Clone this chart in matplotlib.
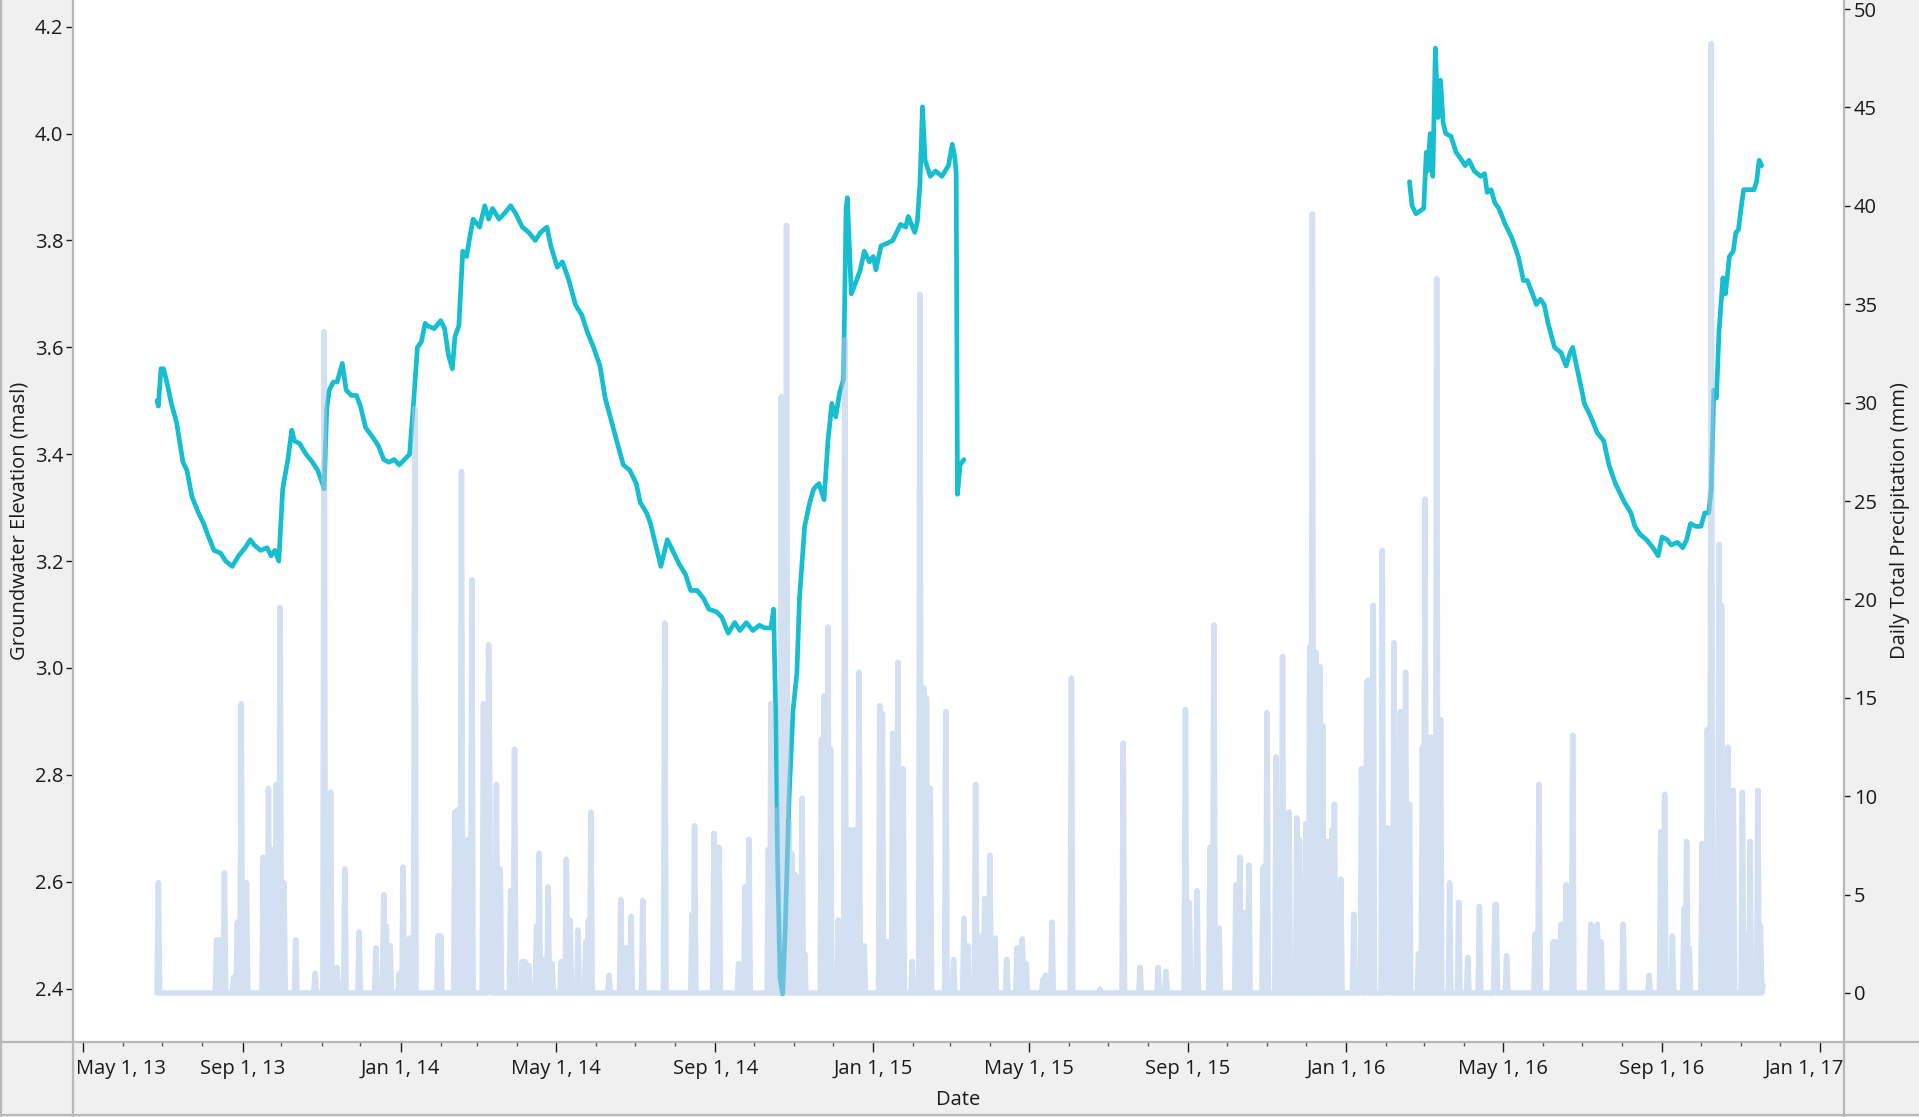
import matplotlib
matplotlib.use('Agg')
import matplotlib.pyplot as plt
import matplotlib.dates as mdates
from matplotlib.lines import Line2D
from matplotlib.ticker import FuncFormatter, MultipleLocator
import pandas as pd

plt.rcParams['font.family'] = ['Open Sans', 'DejaVu Sans']

# groundwater elevation, first logger run (masl)
gw_a_dates = [
    '2013-06-27', '2013-06-28', '2013-06-30', '2013-07-02', '2013-07-05', '2013-07-08',
    '2013-07-12', '2013-07-15', '2013-07-17', '2013-07-20', '2013-07-24', '2013-07-29',
    '2013-08-02', '2013-08-05', '2013-08-10', '2013-08-15', '2013-08-19', '2013-08-24',
    '2013-08-29', '2013-09-03', '2013-09-07', '2013-09-10', '2013-09-15', '2013-09-20',
    '2013-09-23', '2013-09-26', '2013-09-29', '2013-10-02', '2013-10-06', '2013-10-09',
    '2013-10-11', '2013-10-15', '2013-10-20', '2013-10-25', '2013-10-29', '2013-11-01',
    '2013-11-03', '2013-11-05', '2013-11-07', '2013-11-10', '2013-11-13', '2013-11-17',
    '2013-11-20', '2013-11-24', '2013-11-28', '2013-12-01', '2013-12-05', '2013-12-11',
    '2013-12-15', '2013-12-19', '2013-12-23', '2013-12-27', '2013-12-31',
    '2014-01-04', '2014-01-08', '2014-01-11', '2014-01-14', '2014-01-17', '2014-01-20',
    '2014-01-22', '2014-01-27', '2014-02-01', '2014-02-04', '2014-02-07', '2014-02-10',
    '2014-02-12', '2014-02-15', '2014-02-18', '2014-02-21', '2014-02-23', '2014-02-26',
    '2014-03-03', '2014-03-07', '2014-03-10', '2014-03-13', '2014-03-18', '2014-03-22',
    '2014-03-27', '2014-03-31', '2014-04-05', '2014-04-10', '2014-04-15', '2014-04-19',
    '2014-04-24', '2014-04-27', '2014-05-02', '2014-05-06', '2014-05-11', '2014-05-16',
    '2014-05-21', '2014-05-25', '2014-05-30', '2014-06-04', '2014-06-08', '2014-06-13',
    '2014-06-18', '2014-06-22', '2014-06-27', '2014-07-02', '2014-07-05', '2014-07-10',
    '2014-07-13', '2014-07-18', '2014-07-21', '2014-07-26', '2014-07-30', '2014-08-04',
    '2014-08-09', '2014-08-13', '2014-08-18', '2014-08-23', '2014-08-27', '2014-09-02',
    '2014-09-06', '2014-09-11', '2014-09-16', '2014-09-20', '2014-09-25', '2014-09-30',
    '2014-10-05', '2014-10-09', '2014-10-14', '2014-10-16', '2014-10-18', '2014-10-19',
    '2014-10-21', '2014-10-23', '2014-10-25', '2014-10-28', '2014-10-31', '2014-11-03',
    '2014-11-05', '2014-11-09', '2014-11-13', '2014-11-16', '2014-11-20', '2014-11-24',
    '2014-11-27', '2014-11-30', '2014-12-03', '2014-12-06', '2014-12-09', '2014-12-11',
    '2014-12-12', '2014-12-15', '2014-12-19', '2014-12-22', '2014-12-25', '2014-12-29',
    '2015-01-01', '2015-01-03', '2015-01-07', '2015-01-12', '2015-01-16', '2015-01-19',
    '2015-01-22', '2015-01-26', '2015-01-28', '2015-02-02', '2015-02-04', '2015-02-06',
    '2015-02-08', '2015-02-10', '2015-02-14', '2015-02-18', '2015-02-23', '2015-02-28',
    '2015-03-03', '2015-03-05', '2015-03-06', '2015-03-07', '2015-03-09', '2015-03-12',
]
gw_a_level = [
    3.50, 3.49, 3.56, 3.56, 3.53, 3.495,
    3.46, 3.415, 3.385, 3.37, 3.32, 3.29,
    3.27, 3.25, 3.22, 3.215, 3.20, 3.19,
    3.21, 3.225, 3.24, 3.23, 3.22, 3.225,
    3.21, 3.22, 3.20, 3.335, 3.39, 3.445,
    3.425, 3.42, 3.40, 3.385, 3.37, 3.35,
    3.335, 3.485, 3.52, 3.535, 3.535, 3.57,
    3.52, 3.51, 3.51, 3.49, 3.45, 3.43,
    3.415, 3.39, 3.385, 3.39, 3.38,
    3.39, 3.40, 3.495, 3.60, 3.61, 3.645,
    3.64, 3.635, 3.65, 3.635, 3.585, 3.56,
    3.62, 3.64, 3.78, 3.77, 3.80, 3.84,
    3.825, 3.865, 3.84, 3.86, 3.84, 3.85,
    3.865, 3.85, 3.825, 3.815, 3.80, 3.815,
    3.825, 3.79, 3.75, 3.76, 3.725, 3.68,
    3.66, 3.63, 3.60, 3.565, 3.505, 3.46,
    3.415, 3.38, 3.37, 3.345, 3.31, 3.29,
    3.27, 3.22, 3.19, 3.24, 3.22, 3.195,
    3.175, 3.145, 3.145, 3.13, 3.11, 3.105,
    3.095, 3.065, 3.085, 3.07, 3.085, 3.07,
    3.08, 3.075, 3.075, 3.11, 2.875, 2.65,
    2.42, 2.39, 2.51, 2.76, 2.92, 2.99,
    3.13, 3.265, 3.31, 3.335, 3.345, 3.315,
    3.425, 3.495, 3.47, 3.515, 3.54, 3.86,
    3.88, 3.70, 3.725, 3.745, 3.78, 3.76,
    3.77, 3.745, 3.79, 3.795, 3.80, 3.815,
    3.83, 3.825, 3.845, 3.815, 3.835, 3.905,
    4.05, 3.95, 3.92, 3.93, 3.92, 3.94,
    3.98, 3.955, 3.925, 3.325, 3.38, 3.39,
]

# groundwater elevation, second logger run (masl)
gw_b_dates = [
    '2016-02-19', '2016-02-21', '2016-02-24', '2016-02-27', '2016-03-01', '2016-03-03',
    '2016-03-04', '2016-03-06', '2016-03-08', '2016-03-10', '2016-03-12', '2016-03-14',
    '2016-03-16', '2016-03-18', '2016-03-22', '2016-03-26', '2016-03-29', '2016-04-02',
    '2016-04-05', '2016-04-09', '2016-04-14', '2016-04-17', '2016-04-19', '2016-04-22',
    '2016-04-25', '2016-04-28', '2016-05-03', '2016-05-08', '2016-05-13', '2016-05-17',
    '2016-05-20', '2016-05-24', '2016-05-27', '2016-05-30', '2016-06-02', '2016-06-05',
    '2016-06-10', '2016-06-15', '2016-06-19', '2016-06-22', '2016-06-24', '2016-06-27',
    '2016-07-01', '2016-07-03', '2016-07-08', '2016-07-13', '2016-07-18', '2016-07-22',
    '2016-07-27', '2016-07-29', '2016-08-03', '2016-08-08', '2016-08-11', '2016-08-15',
    '2016-08-20', '2016-08-25', '2016-08-29', '2016-09-01', '2016-09-05', '2016-09-08',
    '2016-09-13', '2016-09-17', '2016-09-20', '2016-09-23', '2016-09-27', '2016-10-01',
    '2016-10-04', '2016-10-07', '2016-10-09', '2016-10-11', '2016-10-13', '2016-10-15',
    '2016-10-18', '2016-10-20', '2016-10-23', '2016-10-26', '2016-10-28', '2016-10-30',
    '2016-11-01', '2016-11-03', '2016-11-08', '2016-11-11', '2016-11-13', '2016-11-15',
    '2016-11-17',
]
gw_b_level = [
    3.91, 3.865, 3.85, 3.855, 3.86, 3.965,
    3.93, 4.00, 3.92, 4.16, 4.03, 4.10,
    4.02, 4.00, 3.995, 3.965, 3.955, 3.94,
    3.95, 3.93, 3.92, 3.925, 3.89, 3.895,
    3.87, 3.86, 3.83, 3.805, 3.77, 3.725,
    3.725, 3.70, 3.68, 3.69, 3.68, 3.645,
    3.60, 3.59, 3.565, 3.59, 3.60, 3.565,
    3.52, 3.495, 3.47, 3.44, 3.425, 3.38,
    3.345, 3.335, 3.31, 3.29, 3.265, 3.25,
    3.24, 3.225, 3.21, 3.245, 3.24, 3.23,
    3.235, 3.225, 3.24, 3.27, 3.265, 3.265,
    3.29, 3.29, 3.335, 3.52, 3.505, 3.63,
    3.73, 3.70, 3.77, 3.78, 3.815, 3.82,
    3.86, 3.895, 3.895, 3.895, 3.91, 3.95,
    3.94,
]

# daily total precipitation (mm); days not listed had no rain
rain_start = '2013-06-27'
rain_end = '2016-11-18'
rain_dates = [
    '2013-06-28', '2013-08-12', '2013-08-14', '2013-08-18', '2013-08-25', '2013-08-28',
    '2013-08-31', '2013-09-04', '2013-09-17', '2013-09-21', '2013-09-24', '2013-09-27',
    '2013-09-30', '2013-10-03', '2013-10-12', '2013-10-27', '2013-11-03', '2013-11-08',
    '2013-11-13', '2013-11-19', '2013-11-30', '2013-12-13', '2013-12-19', '2013-12-21',
    '2013-12-24', '2013-12-31',
    '2014-01-03', '2014-01-08', '2014-01-12', '2014-01-30', '2014-02-01', '2014-02-12',
    '2014-02-14', '2014-02-17', '2014-02-19', '2014-02-22', '2014-02-25', '2014-03-06',
    '2014-03-10', '2014-03-11', '2014-03-16', '2014-03-19', '2014-03-27', '2014-03-30',
    '2014-04-05', '2014-04-07', '2014-04-10', '2014-04-16', '2014-04-18', '2014-04-21',
    '2014-04-25', '2014-04-28', '2014-05-05', '2014-05-09', '2014-05-12', '2014-05-18',
    '2014-05-24', '2014-05-26', '2014-05-28', '2014-06-11', '2014-06-20', '2014-06-24',
    '2014-06-28', '2014-07-07', '2014-07-24', '2014-08-14', '2014-08-16', '2014-08-31',
    '2014-09-04', '2014-09-19', '2014-09-24', '2014-09-27', '2014-10-12', '2014-10-14',
    '2014-10-18', '2014-10-22', '2014-10-26', '2014-10-28', '2014-10-30', '2014-11-02',
    '2014-11-07', '2014-11-09', '2014-11-22', '2014-11-24', '2014-11-27', '2014-11-29',
    '2014-12-05', '2014-12-10', '2014-12-14', '2014-12-17', '2014-12-21', '2014-12-25',
    '2015-01-06', '2015-01-08', '2015-01-12', '2015-01-16', '2015-01-20', '2015-01-24',
    '2015-01-31', '2015-02-06', '2015-02-09', '2015-02-11', '2015-02-14', '2015-02-26',
    '2015-03-04', '2015-03-12', '2015-03-15', '2015-03-21', '2015-03-24', '2015-03-28',
    '2015-04-01', '2015-04-05', '2015-04-14', '2015-04-22', '2015-04-26', '2015-04-29',
    '2015-05-12', '2015-05-14', '2015-05-19', '2015-06-03', '2015-06-25', '2015-07-13',
    '2015-07-26', '2015-08-09', '2015-08-15', '2015-08-30', '2015-09-02', '2015-09-08',
    '2015-09-18', '2015-09-21', '2015-09-25', '2015-10-08', '2015-10-11', '2015-10-14',
    '2015-10-18', '2015-10-29', '2015-11-01', '2015-11-08', '2015-11-10', '2015-11-13',
    '2015-11-18', '2015-11-24', '2015-11-26', '2015-12-01', '2015-12-04', '2015-12-06',
    '2015-12-09', '2015-12-12', '2015-12-14', '2015-12-18', '2015-12-21', '2015-12-23',
    '2015-12-28',
    '2016-01-07', '2016-01-13', '2016-01-17', '2016-01-18', '2016-01-22', '2016-01-29',
    '2016-02-01', '2016-02-02', '2016-02-07', '2016-02-12', '2016-02-16', '2016-02-19',
    '2016-02-26', '2016-02-29', '2016-03-02', '2016-03-06', '2016-03-08', '2016-03-11',
    '2016-03-14', '2016-03-21', '2016-03-28', '2016-04-04', '2016-04-13', '2016-04-25',
    '2016-04-26', '2016-05-04', '2016-05-26', '2016-05-29', '2016-06-09', '2016-06-11',
    '2016-06-15', '2016-06-19', '2016-06-24', '2016-07-08', '2016-07-13', '2016-07-16',
    '2016-08-02', '2016-08-22', '2016-08-31', '2016-09-03', '2016-09-09', '2016-09-18',
    '2016-09-20', '2016-09-22', '2016-10-02', '2016-10-06', '2016-10-09', '2016-10-15',
    '2016-10-17', '2016-10-22', '2016-10-26', '2016-11-02', '2016-11-05', '2016-11-08',
    '2016-11-14', '2016-11-16', '2016-11-18',
]
rain_mm = [
    5.6, 2.7, 2.7, 6.1, 0.8, 3.6,
    14.7, 5.6, 6.9, 10.4, 7.3, 10.6,
    19.6, 5.6, 2.7, 1.0, 33.6, 10.2,
    1.3, 6.3, 3.1, 2.3, 5.0, 3.4,
    2.4, 1.0,
    6.4, 2.8, 29.7, 2.9, 2.9, 9.2,
    9.3, 26.5, 6.2, 7.8, 21.0, 14.7,
    17.7, 8.9, 10.6, 6.3, 5.2, 12.4,
    1.6, 1.6, 1.4, 3.4, 7.1, 1.7,
    5.4, 1.5, 1.6, 6.8, 3.7, 3.2,
    2.6, 3.7, 9.2, 0.9, 4.75, 2.3,
    3.9, 4.7, 18.8, 4.0, 8.5, 8.1,
    7.4, 1.5, 5.4, 7.8, 7.3, 14.7,
    9.3, 30.3, 39.0, 8.7, 7.1, 6.0,
    9.9, 2.0, 12.9, 15.1, 18.6, 12.4,
    3.7, 33.2, 8.3, 8.3, 16.3, 2.4,
    14.6, 14.2, 2.6, 13.2, 16.8, 11.4,
    1.6, 35.5, 15.5, 15.0, 10.4, 14.3,
    1.7, 3.8, 2.4, 10.6, 2.9, 4.8,
    7.0, 2.8, 1.7, 2.3, 2.75, 1.5,
    0.7, 0.9, 3.6, 16.0, 0.2, 12.7,
    1.3, 1.3, 1.1, 14.4, 4.6, 5.2,
    7.4, 18.7, 3.3, 5.5, 6.9, 4.1,
    6.5, 6.4, 14.25, 12.0, 5.6, 17.1,
    9.2, 8.9, 7.8, 8.6, 17.6, 39.6,
    17.3, 16.6, 13.6, 7.7, 8.3, 9.6,
    5.8,
    4.0, 11.4, 15.8, 15.9, 19.7, 22.5,
    4.0, 8.4, 17.8, 14.3, 16.3, 9.6,
    2.0, 12.5, 25.1, 13.0, 13.0, 36.3,
    13.9, 5.6, 4.6, 1.8, 4.4, 4.5,
    4.5, 1.9, 3.0, 10.6, 2.6, 2.6,
    3.5, 5.5, 13.1, 3.5, 3.5, 2.6,
    3.5, 0.9, 8.2, 10.1, 2.9, 4.3,
    7.7, 2.3, 7.6, 13.4, 48.25, 22.8,
    19.7, 12.5, 10.3, 10.2, 2.9, 7.7,
    10.3, 3.4, 0.4,
]

PANEL = '#f0f0f0'
EDGE = '#b8b8b8'
TEXT = '#1a1a1a'
GW_COLOR = '#17becf'
RAIN_COLOR = '#aec7e8'
FS = 14.5

W, H = 1919, 1117
ax_left, ax_right, ax_bottom = 73, 1844, 1042
x_start = pd.Timestamp('2013-04-23 02:00')
x_end = pd.Timestamp('2017-01-19 12:00')


def date_label(x, pos=None):
    d = mdates.num2date(x)
    return f"{d:%b} {d.day}, {d:%y}"


def inner_date_label(x, pos=None):
    # the two end labels are placed by hand so they stay inside the panel
    d = mdates.num2date(x).replace(tzinfo=None)
    if d < x_start + pd.Timedelta(days=20) or d > x_end - pd.Timedelta(days=25):
        return ''
    return date_label(x)


fig = plt.figure(figsize=(W / 100, H / 100), dpi=100, facecolor=PANEL)
ax = fig.add_axes([ax_left / W, (H - ax_bottom) / H,
                   (ax_right - ax_left) / W, ax_bottom / H])
ax.set_facecolor('white')
ax2 = ax.twinx()

# precipitation as a daily series
days = pd.date_range(rain_start, rain_end, freq='D')
rain = pd.Series(0.0, index=days)
rain.loc[pd.to_datetime(rain_dates)] = rain_mm

ax.plot(pd.to_datetime(gw_a_dates), gw_a_level, color=GW_COLOR, lw=3.4,
        solid_joinstyle='round', solid_capstyle='round')
ax.plot(pd.to_datetime(gw_b_dates), gw_b_level, color=GW_COLOR, lw=3.4,
        solid_joinstyle='round', solid_capstyle='round')
ax2.plot(rain.index, rain.values, color=RAIN_COLOR, lw=4.0, alpha=0.55,
         solid_joinstyle='round', solid_capstyle='round')

ax.set_xlim(x_start, x_end)
ax.set_ylim(2.3, 4.25)
ax2.set_ylim(-2.49, 50.46)

ax.yaxis.set_major_locator(MultipleLocator(0.2))
ax.yaxis.set_major_formatter(FuncFormatter(lambda v, p: f"{v:.1f}"))
ax2.yaxis.set_major_locator(MultipleLocator(5))
ax2.yaxis.set_major_formatter(FuncFormatter(lambda v, p: f"{v:.0f}"))

ax.xaxis.set_major_locator(mdates.MonthLocator(bymonth=[1, 5, 9]))
ax.xaxis.set_minor_locator(mdates.MonthLocator())
ax.xaxis.set_major_formatter(FuncFormatter(inner_date_label))

ax.tick_params(axis='y', direction='out', length=5, width=1, colors=TEXT,
               labelsize=FS, pad=2)
ax2.tick_params(axis='y', direction='out', length=4, width=1, colors=TEXT,
                labelsize=FS, pad=3)
ax.tick_params(axis='x', which='major', direction='out', length=7, width=1,
               colors=TEXT, labelsize=FS, pad=5)
ax.tick_params(axis='x', which='minor', direction='out', length=3, width=1,
               colors='#555555')

# end labels, pushed inside the plot panel
ax.annotate(date_label(mdates.date2num(pd.Timestamp('2013-05-01'))),
            xy=(0, 0), xycoords='axes fraction', xytext=(2, -12),
            textcoords='offset points', ha='left', va='top',
            fontsize=FS, color=TEXT)
ax.annotate(date_label(mdates.date2num(pd.Timestamp('2017-01-01'))),
            xy=(1, 0), xycoords='axes fraction', xytext=(0, -12),
            textcoords='offset points', ha='right', va='top',
            fontsize=FS, color=TEXT)

for a in (ax, ax2):
    for s in a.spines.values():
        s.set_visible(False)

ax.set_ylabel('Groundwater Elevation (masl)', fontsize=FS, color=TEXT)
ax.yaxis.set_label_coords((30 - ax_left) / (ax_right - ax_left), 0.5)
ax2.set_ylabel('Daily Total Precipitation (mm)', fontsize=FS, color=TEXT)
ax2.yaxis.set_label_coords((1890 - ax_left) / (ax_right - ax_left), 0.5)
ax.set_xlabel('Date', fontsize=FS, color=TEXT)
ax.xaxis.set_label_coords(0.5, (ax_bottom - 1090) / ax_bottom)

# panel borders
for x in (1, ax_left, ax_right):
    fig.add_artist(Line2D([x / W, x / W], [0, 1], transform=fig.transFigure,
                          color=EDGE, lw=1.6))
for y in (ax_bottom, H - 2):
    fig.add_artist(Line2D([0, 1], [(H - y) / H, (H - y) / H],
                          transform=fig.transFigure, color=EDGE, lw=1.6))

fig.savefig('out.png', dpi=100, facecolor=PANEL)
